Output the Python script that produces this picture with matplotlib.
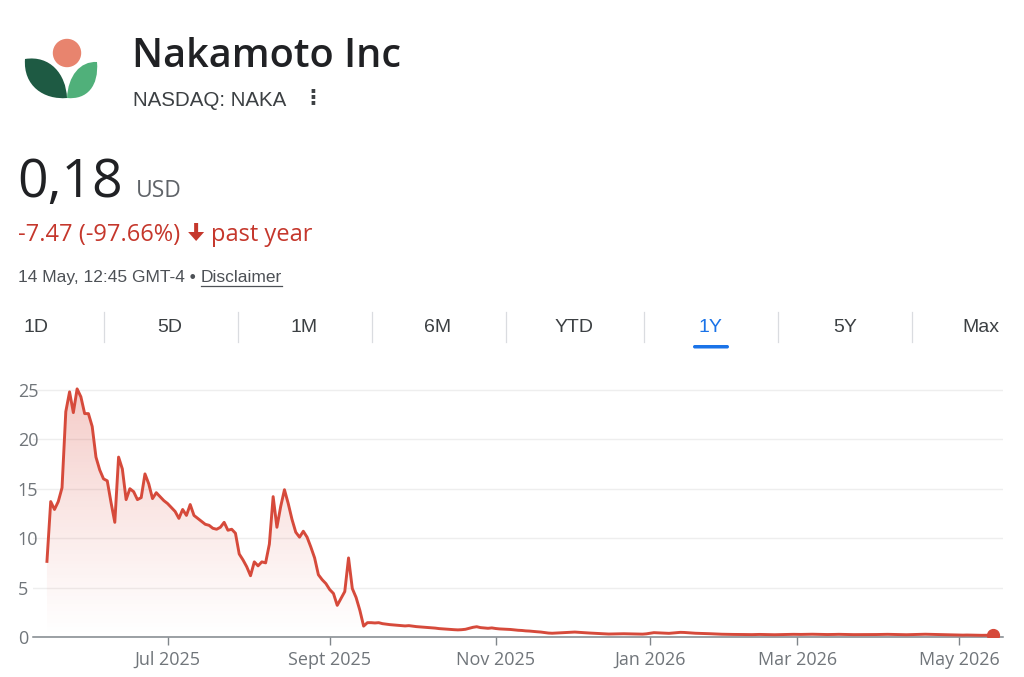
import numpy as np
import pandas as pd
import matplotlib
matplotlib.use('Agg')
import matplotlib.pyplot as plt
from matplotlib.path import Path
from matplotlib.patches import PathPatch, Circle, Polygon, FancyBboxPatch, FancyArrow

# --- data (daily closes, NASDAQ: NAKA, 1Y) ---
prices = [
    7.65, 13.7, 12.9, 13.7, 15.1, 22.8, 24.8, 22.7, 25.1, 24.3,
    22.6, 22.6, 21.3, 18.2, 16.9, 16.0, 15.8, 13.6, 11.6, 18.2,
    17.0, 13.9, 15.0, 14.7, 13.9, 14.1, 16.5, 15.5, 14.0, 14.6,
    14.2, 13.8, 13.5, 13.1, 12.7, 12.0, 12.9, 12.3, 13.4, 12.3,
    12.0, 11.7, 11.4, 11.3, 11.0, 10.9, 11.1, 11.6, 10.8, 10.9,
    10.5, 8.4, 7.8, 7.1, 6.2, 7.6, 7.2, 7.6, 7.5, 9.4,
    14.2, 11.1, 13.2, 14.9, 13.5, 11.9, 10.6, 10.1, 10.7, 10.1,
    9.1, 8.0, 6.3, 5.8, 5.4, 4.8, 4.4, 3.2, 3.9, 4.6,
    8.0, 4.9, 4.0, 2.7, 1.1, 1.45, 1.45, 1.42, 1.45, 1.35,
    1.30, 1.25, 1.22, 1.20, 1.15, 1.12, 1.15, 1.10, 1.05, 1.02,
    1.00, 0.97, 0.93, 0.90, 0.85, 0.82, 0.80, 0.76, 0.74, 0.72,
    0.74, 0.78, 0.88, 0.98, 1.04, 0.95, 0.92, 0.88, 0.92, 0.86,
    0.82, 0.80, 0.78, 0.76, 0.72, 0.68, 0.66, 0.62, 0.60, 0.56,
    0.53, 0.50, 0.45, 0.40, 0.38, 0.40, 0.42, 0.43, 0.45, 0.47,
    0.50, 0.48, 0.45, 0.42, 0.40, 0.38, 0.36, 0.33, 0.31, 0.30,
    0.31, 0.32, 0.33, 0.33, 0.32, 0.31, 0.30, 0.30, 0.29, 0.32,
    0.38, 0.44, 0.42, 0.40, 0.38, 0.37, 0.40, 0.44, 0.47, 0.46,
    0.43, 0.40, 0.38, 0.37, 0.36, 0.35, 0.33, 0.31, 0.30, 0.28,
    0.27, 0.27, 0.26, 0.26, 0.25, 0.25, 0.24, 0.24, 0.25, 0.26,
    0.25, 0.24, 0.24, 0.23, 0.24, 0.25, 0.26, 0.26, 0.27, 0.26,
    0.26, 0.27, 0.27, 0.28, 0.27, 0.26, 0.26, 0.25, 0.25, 0.26,
    0.27, 0.26, 0.25, 0.25, 0.24, 0.24, 0.25, 0.25, 0.24, 0.24,
    0.25, 0.26, 0.27, 0.27, 0.26, 0.25, 0.24, 0.24, 0.23, 0.24,
    0.25, 0.26, 0.27, 0.28, 0.27, 0.26, 0.25, 0.24, 0.22, 0.21,
    0.20, 0.20, 0.19, 0.19, 0.20, 0.19, 0.18, 0.18, 0.17, 0.18,
    0.18, 0.18,
]
start_date = '2025-05-14'
market_holidays = ['2025-05-26', '2025-06-19', '2025-07-04', '2025-09-01',
                   '2025-11-27', '2025-12-25', '2026-01-01', '2026-01-19',
                   '2026-02-16', '2026-04-03']
tick_months = ['2025-07-01', '2025-09-01', '2025-11-01', '2026-01-01',
               '2026-03-01', '2026-05-01']
tick_labels = ['Jul 2025', 'Sept 2025', 'Nov 2025', 'Jan 2026', 'Mar 2026', 'May 2026']
y_ticks = [0, 5, 10, 15, 20, 25]
tabs = ['1D', '5D', '1M', '6M', 'YTD', '1Y', '5Y', 'Max']
active_tab = '1Y'

# trading-day calendar, x axis runs by trading day like Google Finance
bday = pd.offsets.CustomBusinessDay(holidays=market_holidays)
dates = pd.date_range(start_date, periods=len(prices), freq=bday)
x = np.arange(len(prices))
y = np.array(prices)
tick_pos = [int(np.argmax(dates >= pd.Timestamp(m))) for m in tick_months]

RED = '#d64a3b'
DOWN = '#c5372c'
GREY = '#5f6368'
DARK = '#202124'
SANS = ['Open Sans', 'DejaVu Sans']
ARIAL = ['Liberation Sans', 'DejaVu Sans']

fig = plt.figure(figsize=(10.24, 6.77), dpi=100)
fig.patch.set_facecolor('white')
renderer = fig.canvas.get_renderer()

# header layer in pixel coordinates
hdr = fig.add_axes([0, 0, 1, 1])
hdr.set_xlim(0, 1024)
hdr.set_ylim(677, 0)
hdr.axis('off')


def right_edge(txt):
    # right end of a text, in header pixel coordinates
    bb = txt.get_window_extent(renderer)
    return hdr.transData.inverted().transform((bb.x1, bb.y0))[0]


# logo
hdr.add_patch(Circle((67, 53), 13.5, color='#e8846e'))
left_leaf = Path([(25, 59), (50, 55), (66, 74), (67, 98), (44, 100), (23, 86), (25, 59)],
                 [Path.MOVETO, Path.CURVE4, Path.CURVE4, Path.CURVE4,
                  Path.CURVE4, Path.CURVE4, Path.CURVE4])
right_leaf = Path([(97, 62), (80, 61), (68, 76), (67, 98), (87, 100), (99, 86), (97, 62)],
                  [Path.MOVETO, Path.CURVE4, Path.CURVE4, Path.CURVE4,
                   Path.CURVE4, Path.CURVE4, Path.CURVE4])
hdr.add_patch(PathPatch(left_leaf, facecolor='#1e5a43', edgecolor='none'))
hdr.add_patch(PathPatch(right_leaf, facecolor='#50b07a', edgecolor='none'))

hdr.text(132, 67, 'Nakamoto Inc', fontsize=28.5, fontweight='semibold', color=DARK,
         family=SANS, va='baseline')
hdr.text(133, 106, 'NASDAQ: NAKA', fontsize=14.8, color='#3c4043', family=ARIAL, va='baseline')
hdr.text(313, 97, '⋮', fontsize=15, fontweight='bold', color='#3c4043',
         family=['DejaVu Sans'], ha='center', va='center')

hdr.text(17, 197, '0,18', fontsize=38.5, color=DARK, family=SANS, va='baseline')
hdr.text(136, 197, 'USD', fontsize=16.5, color=GREY, family=SANS, va='baseline')

chg = hdr.text(18, 241, '-7.47 (-97.66%)', fontsize=17, color=DOWN, family=SANS, va='baseline')
ax0 = right_edge(chg)
# solid down arrow
hdr.add_patch(FancyArrow(ax0 + 16, 223, 0, 18, width=4, head_width=16, head_length=9,
                         length_includes_head=True, facecolor=DOWN, edgecolor='none'))
hdr.text(ax0 + 31, 241, 'past year', fontsize=17, color=DOWN, family=SANS, va='baseline')

stamp = hdr.text(18, 282, '14 May, 12:45 GMT-4 •', fontsize=12.5, color='#4d5156',
                 family=ARIAL, va='baseline')
dx = right_edge(stamp) + 5
disc = hdr.text(dx, 282, 'Disclaimer', fontsize=12.5, color='#4d5156', family=ARIAL,
                va='baseline')
hdr.plot([dx, right_edge(disc)], [285.5, 285.5], color='#4d5156', lw=0.9)

# range tabs
tab_x = [36, 170, 304, 438, 574, 710, 845, 981]
sep_x = [104, 238, 372, 506, 644, 778, 912]
for tx, lab in zip(tab_x, tabs):
    c = '#1a73e8' if lab == active_tab else '#3c4043'
    hdr.text(tx, 328, lab, fontsize=14, color=c, family=ARIAL, ha='center', va='center')
for sx in sep_x:
    hdr.plot([sx, sx], [312, 342], color='#dadce0', lw=0.9)
hdr.add_patch(FancyBboxPatch((693, 345), 36, 3.5, boxstyle='round,pad=0,rounding_size=1.8',
                             facecolor='#1a73e8', edgecolor='none'))

# price chart
ax = fig.add_axes([33 / 1024, 40 / 677, 970 / 1024, 257 / 677])
ax.set_facecolor('none')
xmin, xmax = -3.7, 253.6
ymax = 26

grad = np.linspace(0, 1, 256).reshape(-1, 1)
rgba = np.zeros((256, 1, 4))
rgba[..., 0], rgba[..., 1], rgba[..., 2] = 0.86, 0.30, 0.25
rgba[..., 3] = 0.30 * grad[:, 0:1] ** 1.1
img = ax.imshow(rgba, extent=[xmin, xmax, 0, ymax], origin='lower', aspect='auto', zorder=1)
verts = np.column_stack([np.r_[x, x[::-1]], np.r_[y, np.zeros_like(y)]])
clip = Polygon(verts, closed=True, facecolor='none', edgecolor='none')
ax.add_patch(clip)
img.set_clip_path(clip)

ax.plot(x, y, color=RED, lw=2.1, zorder=3, solid_joinstyle='round')
ax.plot(x[-1], y[-1], 'o', color=RED, ms=8.5, zorder=4)

ax.set_xlim(xmin, xmax)
ax.set_ylim(0, ymax)
ax.set_yticks(y_ticks)
ax.set_xticks(tick_pos)
ax.set_xticklabels(tick_labels)
ax.grid(axis='y', color='#eeeeee', lw=1)
ax.set_axisbelow(True)
for s in ['top', 'right', 'left']:
    ax.spines[s].set_visible(False)
ax.spines['bottom'].set_color('#80868b')
ax.spines['bottom'].set_linewidth(1.1)
ax.spines['bottom'].set_zorder(2)
ax.tick_params(axis='x', length=6, width=1, color='#80868b', pad=4,
               labelsize=13, labelcolor='#70757a')
ax.tick_params(axis='y', length=0, pad=11, labelsize=13, labelcolor='#70757a')
for lab in ax.get_yticklabels():
    lab.set_horizontalalignment('left')
for lab in ax.get_xticklabels() + ax.get_yticklabels():
    lab.set_family(SANS)

fig.savefig('out.png', dpi=100, facecolor='white')
